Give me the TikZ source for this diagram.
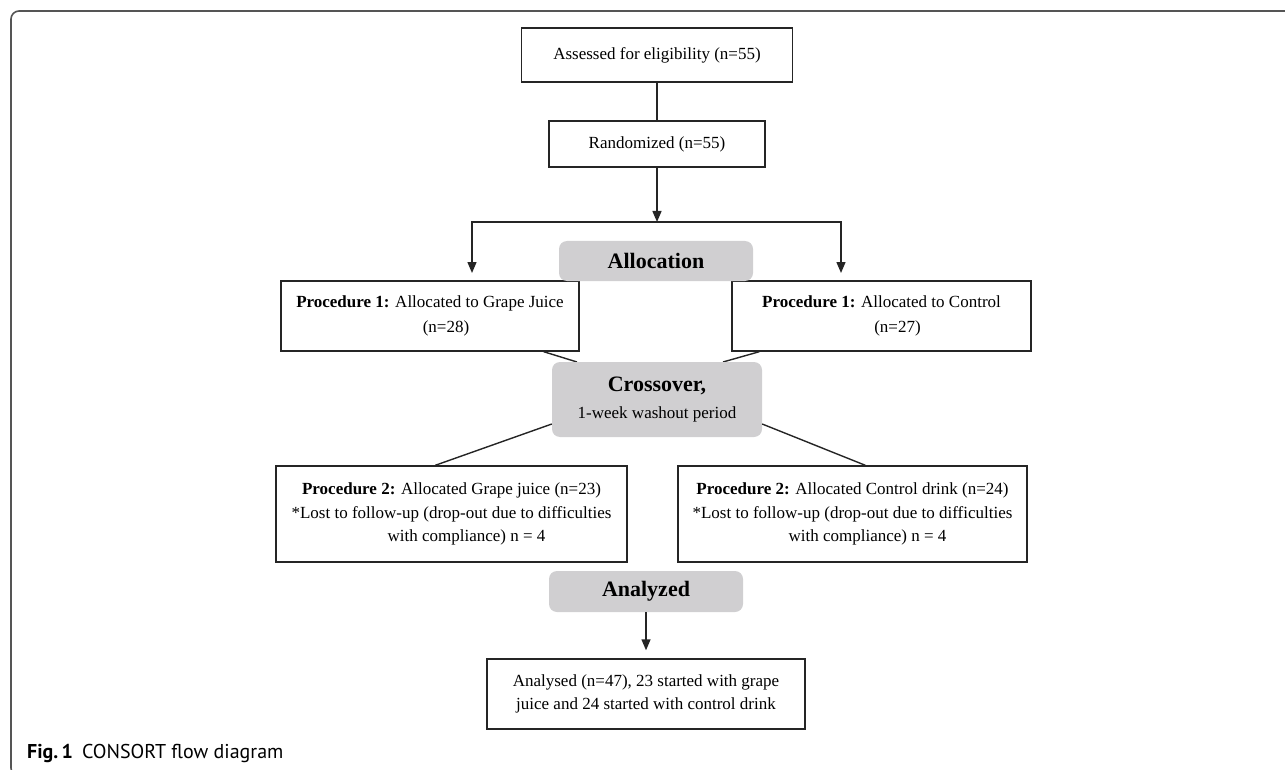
\documentclass[tikz,border=0pt]{standalone}
\usepackage{fontspec}
\setmainfont{Liberation Serif}
\newfontfamily\capfont{PT Sans}
\usetikzlibrary{arrows.meta,calc}
\definecolor{graybox}{HTML}{D0CFD1}
\definecolor{framec}{HTML}{555555}
\definecolor{linec}{HTML}{252525}
\begin{document}
\begin{tikzpicture}[x=1pt,y=-1pt,
  box/.style={draw=linec, line width=1.4pt, fill=white, inner sep=0pt, align=center, font=\fontsize{17}{23.5}\selectfont},
  gbox/.style={fill=graybox, rounded corners=8pt, inner sep=0pt, align=center},
  conn/.style={line width=1.4pt, draw=linec},
  arr/.style={conn, -{Triangle[length=11pt,width=9pt]}},
]
\useasboundingbox (0,0) rectangle (1285,770);
% outer frame
\draw[framec, line width=1.6pt, rounded corners=8pt] (1290,11) -- (11,11) -- (11,776) -- (100,776);

% boxes
\node[box, minimum width=271, minimum height=54] (b1) at (657,55) {Assessed for eligibility (n=55)};
\node[box, minimum width=216, minimum height=46] (b2) at (657,144) {Randomized (n=55)};
\node[box, minimum width=298, minimum height=70] (p1l) at (430,316) {\textbf{Procedure 1:} Allocated to Grape Juice\\[1pt]\hspace*{32pt}(n=28)};
\node[box, minimum width=299, minimum height=70] (p1r) at (881.5,316) {\textbf{Procedure 1:} Allocated to Control\\[1pt]\hspace*{32pt}(n=27)};
\node[box, minimum width=351, minimum height=96] (p2l) at (451.5,514) {\textbf{Procedure 2:} Allocated Grape juice (n=23)\\*Lost to follow-up (drop-out due to difficulties\\\hspace*{30pt}with compliance) n = 4};
\node[box, minimum width=349, minimum height=96] (p2r) at (852.5,514) {\textbf{Procedure 2:} Allocated Control drink (n=24)\\*Lost to follow-up (drop-out due to difficulties\\\hspace*{30pt}with compliance) n = 4};
\node[box, minimum width=318, minimum height=70] (fin) at (646,694) {Analysed (n=47), 23 started with grape\\juice and 24 started with control drink};

% connectors
\coordinate (split) at (657,222);
\coordinate (lat) at (472,273);
\coordinate (rat) at (841,273);
\draw[conn] (b1.south) -- (b2.north);
\draw[arr] (b2.south) -- (split);
\draw[arr] (split) -| (lat);
\draw[arr] (split) -| (rat);

% gray label boxes
\node[gbox, minimum width=194, minimum height=40, font=\bfseries\fontsize{22}{26}\selectfont] (alloc) at (656,261) {Allocation};

\draw[conn] ($(p1l.south east)+(-36,0)$) -- (577,362);
\draw[conn] ($(p1r.south west)+(28,0)$) -- (723,362);

\node[gbox, minimum width=210, minimum height=75, font=\fontsize{17}{27}\selectfont] (cross) at (657,399.5) {{\bfseries\fontsize{22}{27}\selectfont Crossover,}\\1-week washout period};

\draw[conn] ($(cross.west)+(0,24.5)$) -- ($(p2l.north west)+(160,0)$);
\draw[conn] ($(cross.east)+(0,24.5)$) -- ($(p2r.north west)+(188,0)$);

\node[gbox, minimum width=194, minimum height=41, font=\bfseries\fontsize{22}{26}\selectfont] (anal) at (646,591.5) {Analyzed};
\draw[arr] (anal.south) -- ($(fin.north)+(0,-8)$);

% caption
\node[anchor=base west, inner sep=0pt, font=\capfont\fontsize{20}{24}\selectfont] (cap) at (27,758) {\textbf{Fig.\,1}\hspace{9pt}CONSORT flow diagram};
\end{tikzpicture}
\end{document}
